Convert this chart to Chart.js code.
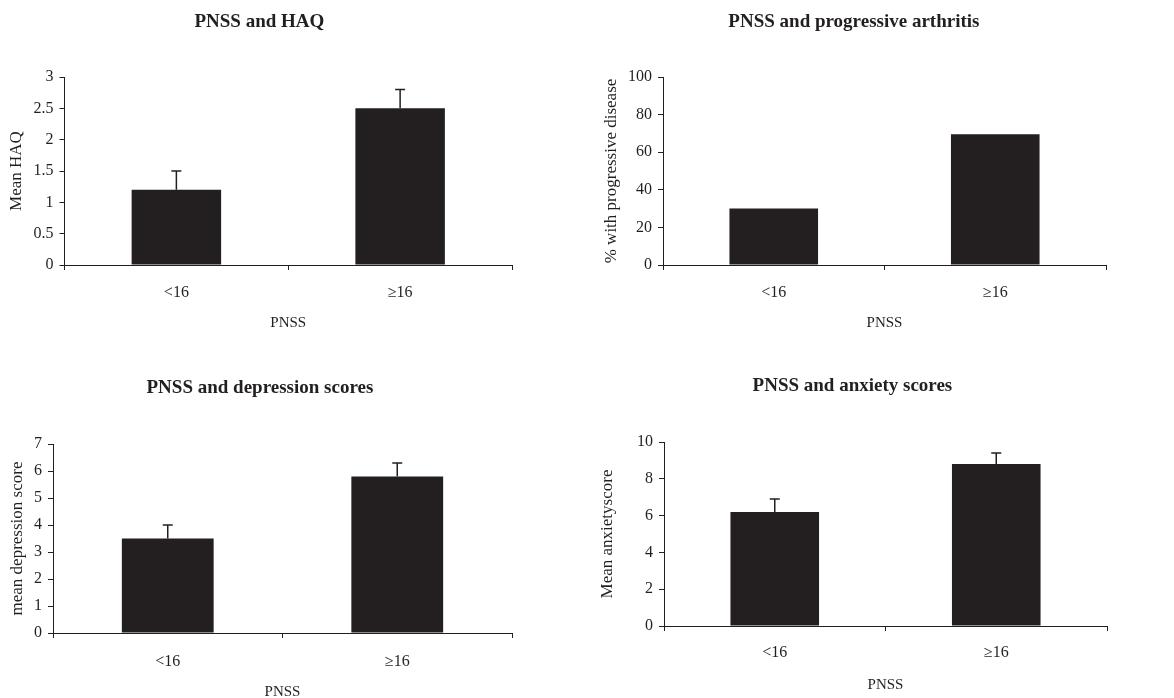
<!DOCTYPE html>
<html>
<head>
<meta charset="utf-8">
<script src="https://cdn.jsdelivr.net/npm/chart.js@4.4.1/dist/chart.umd.min.js"></script>
<style>
  html, body { margin: 0; padding: 0; background: #fff; overflow: hidden; }
  #root { position: relative; width: 1174px; height: 698px; }
  canvas { position: absolute; }
</style>
</head>
<body>
<div id="root"></div>
<script>
// data
const categories = ['<16', '\u226516']
const haq_mean = [1.2, 2.5]
const haq_err = [1.5, 2.8]
const prog_pct = [30, 69.5]
const dep_mean = [3.5, 5.8]
const dep_err = [4.0, 6.3]
const anx_mean = [6.2, 8.8]
const anx_err = [6.9, 9.4]

const ink = '#231f20'
Chart.defaults.font.family = "'Liberation Serif', 'DejaVu Serif', serif"
Chart.defaults.color = ink

const app = document.getElementById('root')

// upward error bars, drawn from dataset.errTop through the y scale
const errorBars = {
    id: 'errorBars',
    afterDatasetsDraw(chart) {
        const ds = chart.data.datasets[0]
        if (!ds.errTop) return
        const meta = chart.getDatasetMeta(0)
        const y = chart.scales.y
        const ctx = chart.ctx
        ctx.save()
        ctx.strokeStyle = ink
        ctx.lineWidth = 1.5
        meta.data.forEach((bar, i) => {
            const yTop = y.getPixelForValue(ds.errTop[i])
            ctx.beginPath()
            ctx.moveTo(bar.x, bar.y)
            ctx.lineTo(bar.x, yTop)
            ctx.moveTo(bar.x - 5, yTop)
            ctx.lineTo(bar.x + 5, yTop)
            ctx.stroke()
        })
        ctx.restore()
    }
}

const TITLE_SIZE = 19
const TICK_SIZE = 16
const YTITLE_SIZE = 17
const XTITLE_SIZE = 15

function makeChart(box, title, yTitle, values, errTop, yMax, yStep) {
    const cv = document.createElement('canvas')
    cv.width = box.w
    cv.height = box.h
    cv.style.left = box.x + 'px'
    cv.style.top = box.y + 'px'
    app.appendChild(cv)

    // line heights are 1.2 x font size
    const padLeft = box.yTitleX - YTITLE_SIZE * 0.6
    const xHeight = box.pnss - box.plotBottom + XTITLE_SIZE * 0.6
    const tickPad = box.tick - box.plotBottom - 5 - TICK_SIZE * 0.6
    const tHalf = TITLE_SIZE * 0.6

    return new Chart(cv.getContext('2d'), {
        type: 'bar',
        data: {
            labels: categories,
            datasets: [{
                data: values,
                errTop: errTop,
                backgroundColor: ink,
                borderWidth: 0,
                categoryPercentage: 1,
                barPercentage: 0.4
            }]
        },
        options: {
            responsive: false,
            animation: false,
            layout: {
                padding: {
                    left: padLeft,
                    right: box.w - box.plotRight,
                    top: 0,
                    bottom: box.h - box.plotBottom - xHeight
                }
            },
            plugins: {
                legend: { display: false },
                tooltip: { enabled: false },
                title: {
                    display: true,
                    text: title,
                    color: ink,
                    font: { size: TITLE_SIZE, weight: 'bold' },
                    padding: { top: box.titleY - tHalf, bottom: box.plotTop - box.titleY - tHalf }
                }
            },
            scales: {
                x: {
                    grid: { offset: true, drawOnChartArea: false, drawTicks: true, tickLength: 5, color: ink },
                    border: { color: ink, width: 1 },
                    ticks: { font: { size: TICK_SIZE }, color: ink, padding: tickPad },
                    title: { display: true, text: 'PNSS', font: { size: XTITLE_SIZE }, color: ink, padding: 0 },
                    afterFit: s => { s.height = xHeight }
                },
                y: {
                    min: 0,
                    max: yMax,
                    grid: { drawOnChartArea: false, drawTicks: true, tickLength: 5, color: ink },
                    border: { color: ink, width: 1 },
                    ticks: { stepSize: yStep, font: { size: TICK_SIZE }, color: ink, padding: 6,
                        callback: v => String(v) },
                    title: { display: true, text: yTitle, font: { size: YTITLE_SIZE }, color: ink, padding: 0 },
                    afterFit: s => { s.width = box.plotLeft - padLeft }
                }
            }
        },
        plugins: [errorBars]
    })
}

makeChart({ x: 0, y: 0, w: 587, h: 350, yTitleX: 17, plotLeft: 64.5, plotRight: 512,
    titleY: 22, plotTop: 77, plotBottom: 265, tick: 293, pnss: 323 },
    'PNSS and HAQ', 'Mean HAQ', haq_mean, haq_err, 3, 0.5)

makeChart({ x: 587, y: 0, w: 587, h: 350, yTitleX: 25, plotLeft: 76, plotRight: 519,
    titleY: 22, plotTop: 77, plotBottom: 265, tick: 293, pnss: 323 },
    'PNSS and progressive arthritis', '% with progressive disease', prog_pct, null, 100, 20)

makeChart({ x: 0, y: 350, w: 587, h: 360, yTitleX: 18, plotLeft: 53, plotRight: 512,
    titleY: 38, plotTop: 94, plotBottom: 283, tick: 312, pnss: 342 },
    'PNSS and depression scores', 'mean depression score', dep_mean, dep_err, 7, 1)

makeChart({ x: 587, y: 350, w: 587, h: 360, yTitleX: 21, plotLeft: 77, plotRight: 520,
    titleY: 36, plotTop: 92, plotBottom: 276, tick: 303, pnss: 335 },
    'PNSS and anxiety scores', 'Mean anxietyscore', anx_mean, anx_err, 10, 2)
</script>
</body>
</html>
